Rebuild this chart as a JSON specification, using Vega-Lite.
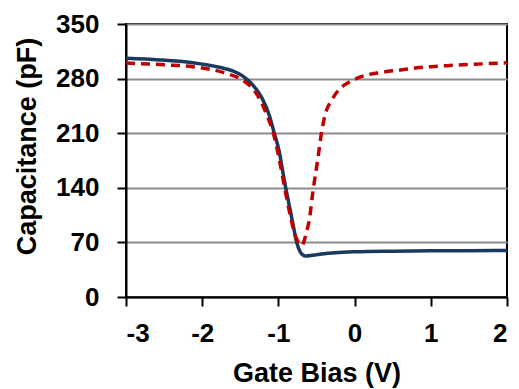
{
  "$schema": "https://vega.github.io/schema/vega-lite/v6.json",
  "autosize": "none",
  "width": 381,
  "height": 273,
  "padding": {"left": 126, "top": 24, "right": 12, "bottom": 92},
  "background": "white",
  "config": {
    "view": {"stroke": "black", "strokeWidth": 2},
    "font": "Liberation Sans"
  },
  "datasets": {
    "blue": [
      {"v": -3, "c": 306}, {"v": -2.56, "c": 304}, {"v": -2.125, "c": 300.3}, {"v": -1.775, "c": 294.5},
      {"v": -1.6, "c": 290}, {"v": -1.47, "c": 283.5}, {"v": -1.337, "c": 272}, {"v": -1.21, "c": 254},
      {"v": -1.12, "c": 233}, {"v": -1.054, "c": 210}, {"v": -0.988, "c": 186}, {"v": -0.95, "c": 165},
      {"v": -0.9, "c": 138}, {"v": -0.85, "c": 114},
      {"v": -0.8, "c": 89}, {"v": -0.76, "c": 70}, {"v": -0.72, "c": 59}, {"v": -0.68, "c": 54},
      {"v": -0.64, "c": 52.5}, {"v": -0.55, "c": 53.5}, {"v": -0.4, "c": 55.5}, {"v": -0.3, "c": 56.5},
      {"v": -0.2, "c": 57.2}, {"v": 0, "c": 58}, {"v": 0.5, "c": 58.8}, {"v": 1, "c": 59.2},
      {"v": 1.5, "c": 59.4}, {"v": 2, "c": 59.5}
    ],
    "red": [
      {"v": -3, "c": 300}, {"v": -2.5, "c": 297.7}, {"v": -2.125, "c": 295.3}, {"v": -1.69, "c": 286.8},
      {"v": -1.47, "c": 278}, {"v": -1.29, "c": 261}, {"v": -1.16, "c": 235.5}, {"v": -1.054, "c": 205.5},
      {"v": -1.0, "c": 182}, {"v": -0.95, "c": 157}, {"v": -0.9, "c": 131}, {"v": -0.85, "c": 107},
      {"v": -0.8, "c": 86}, {"v": -0.76, "c": 74}, {"v": -0.72, "c": 68}, {"v": -0.69, "c": 66},
      {"v": -0.673, "c": 69}, {"v": -0.63, "c": 84}, {"v": -0.594, "c": 99}, {"v": -0.55, "c": 133},
      {"v": -0.484, "c": 176}, {"v": -0.432, "c": 212}, {"v": -0.4, "c": 228}, {"v": -0.366, "c": 240},
      {"v": -0.3, "c": 252.6}, {"v": -0.214, "c": 265}, {"v": -0.06, "c": 276}, {"v": 0.159, "c": 284.6},
      {"v": 0.333, "c": 287.8}, {"v": 0.6, "c": 291}, {"v": 0.8, "c": 293.5}, {"v": 1.0, "c": 295.3},
      {"v": 1.25, "c": 296.8}, {"v": 1.5, "c": 298}, {"v": 1.75, "c": 299.2}, {"v": 2, "c": 300.3}
    ]
  },
  "encoding": {
    "x": {
      "field": "v", "type": "quantitative",
      "scale": {"domain": [-3, 2], "nice": false},
      "axis": {
        "title": "Gate Bias (V)", "values": [-3, -2, -1, 0, 1, 2], "labelExpr": "'' + datum.value",
        "grid": false, "domainColor": "black", "domainWidth": 2,
        "tickColor": "black", "tickWidth": 2, "tickSize": 9,
        "labelFontSize": 26, "labelFontWeight": "bold", "labelColor": "black", "labelPadding": 14,
        "titleFontSize": 27, "titleFontWeight": "bold", "titleColor": "black", "titlePadding": 14
      }
    },
    "y": {
      "field": "c", "type": "quantitative",
      "scale": {"domain": [0, 350], "nice": false},
      "axis": {
        "title": "Capacitance (pF)", "values": [0, 70, 140, 210, 280, 350],
        "grid": true, "gridColor": "#8c8c8c", "gridWidth": 2,
        "domainColor": "black", "domainWidth": 2,
        "tickColor": "black", "tickWidth": 2, "tickSize": 9,
        "labelFontSize": 26, "labelFontWeight": "bold", "labelColor": "black", "labelPadding": 18,
        "titleFontSize": 27, "titleFontWeight": "bold", "titleColor": "black",
        "titleX": -85, "titleY": 122
      }
    }
  },
  "layer": [
    {"data": {"name": "blue"}, "mark": {"type": "line", "color": "#173a5e", "strokeWidth": 3.5, "interpolate": "monotone"}},
    {"data": {"name": "red"}, "mark": {"type": "line", "color": "#c00000", "strokeWidth": 3.5, "strokeDash": [9, 6], "interpolate": "monotone"}}
  ]
}
